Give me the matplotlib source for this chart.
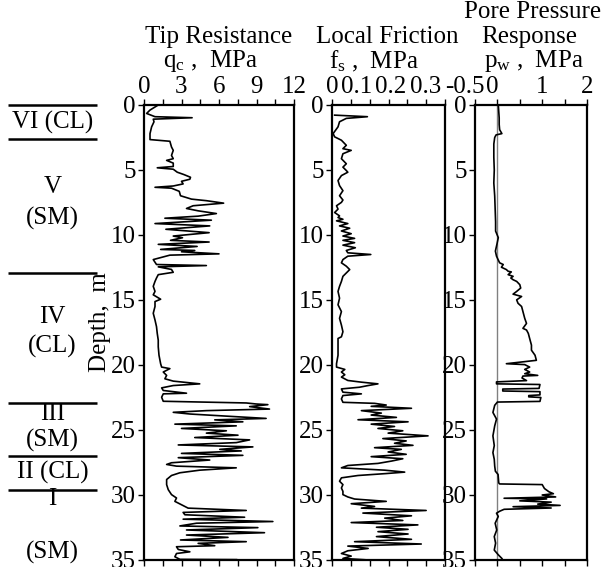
import numpy as np
import matplotlib
matplotlib.use("Agg")
import matplotlib.pyplot as plt
import matplotlib.transforms as mtransforms
from matplotlib.ticker import MultipleLocator

plt.rcParams['font.family'] = 'Liberation Serif'
plt.rcParams['mathtext.fontset'] = 'custom'
plt.rcParams['mathtext.rm'] = 'Liberation Serif'
plt.rcParams['mathtext.it'] = 'Liberation Serif:italic'
plt.rcParams['axes.unicode_minus'] = False

# CPT log: (depth m, value MPa)
qc_log = [(0.0,1.14),(0.39,0.48),(0.65,0.21),(0.90,0.88),(0.98,3.85),(1.09,0.74),(1.29,0.80),(1.68,0.61),
          (2.20,0.48),(2.66,0.48),(2.79,2.07),(3.23,2.20),(3.49,2.34),(3.88,2.20),(4.13,2.34),(4.26,1.81),
          (4.47,2.34),(4.73,2.34),(4.83,1.06),(4.94,2.34),(5.17,2.66),(5.35,3.19),(5.56,3.72),(5.71,3.67),
          (5.87,3.00),(6.07,3.13),(6.23,2.34),(6.33,0.88),(6.40,2.20),(6.64,2.82),(6.98,2.92),(7.24,3.80),
          (7.36,4.99),(7.55,6.37),(7.75,3.93),(7.96,3.40),(8.14,4.33),(8.35,5.79),(8.55,4.33),(8.71,1.67),
          (8.86,5.39),(9.12,0.88),(9.30,5.26),(9.56,1.75),(9.82,5.21),(10.08,2.34),(10.21,3.08),(10.41,2.12),
          (10.54,5.21),(10.72,1.14),(10.88,4.25),(11.11,1.33),(11.19,4.06),(11.29,3.00),(11.45,6.00),(11.55,2.07),
          (11.89,0.74),(12.27,1.00),(12.35,4.99),(12.45,1.14),(12.65,2.20),(12.87,2.34),(13.05,1.14),(13.31,1.00),
          (13.57,0.88),(13.95,0.74),(14.34,0.88),(14.60,0.74),(14.94,1.33),(15.12,0.88),(15.50,0.88),(16.02,0.74),
          (16.54,0.88),(17.05,1.00),(17.57,1.06),(18.09,1.14),(18.60,1.14),(19.25,1.20),(19.90,1.33),(20.16,1.41),
          (20.28,2.07),(20.54,1.54),(20.80,1.81),(21.06,1.67),(21.24,2.34),(21.45,4.46),(21.58,2.34),(21.76,1.41),
          (21.96,1.54),(22.17,3.40),(22.22,1.54),(22.48,1.41),(22.79,1.54),(22.92,8.18),(23.00,8.98),(23.05,9.91),
          (23.20,8.45),(23.39,10.04),(23.51,4.99),(23.64,2.34),(23.77,3.67),(24.11,9.77),(24.22,5.66),(24.37,7.91),
          (24.55,2.47),(24.68,7.38),(24.88,3.00),(25.06,6.59),(25.24,4.99),(25.40,7.52),(25.58,4.06),(25.76,8.45),
          (25.97,7.38),(26.15,2.74),(26.30,8.71),(26.49,6.06),(26.61,7.78),(26.80,3.00),(26.95,7.91),(27.13,2.74),
          (27.31,5.26),(27.52,2.20),(27.65,1.81),(27.78,2.60),(27.91,7.38),(28.09,4.46),(28.29,2.87),(28.50,2.20),
          (28.81,1.81),(29.20,1.81),(29.59,1.94),(29.97,2.20),(30.23,2.60),(30.49,2.47),(30.75,3.00),(31.01,3.53),
          (31.19,8.18),(31.34,3.13),(31.52,3.27),(31.71,8.05),(31.86,3.13),(32.04,10.31),(32.17,4.20),(32.38,2.87),
          (32.51,9.11),(32.69,3.40),(32.90,9.64),(33.08,3.40),(33.26,6.72),(33.46,2.92),(33.59,8.18),(33.72,4.33),
          (33.90,5.66),(33.98,2.60),(34.19,2.74),(34.37,3.67),(34.50,2.60),(34.75,2.47),(34.95,2.87),(34.97,7.40)]

fs_log = [(0.78,0.007),(0.90,0.094),(1.03,0.038),(1.29,0.020),(1.68,0.016),(2.20,0.003),(2.45,0.007),(2.71,0.025),
          (3.10,0.038),(3.36,0.029),(3.49,0.051),(3.75,0.029),(4.13,0.025),(4.52,0.038),(4.78,0.029),(5.04,0.038),
          (5.17,0.042),(5.43,0.025),(5.81,0.016),(6.20,0.020),(6.59,0.029),(6.98,0.020),(7.31,0.029),(7.49,0.025),
          (7.75,0.012),(8.01,0.016),(8.27,0.007),(8.53,0.020),(8.66,0.016),(8.79,0.029),(8.91,0.012),(9.12,0.042),
          (9.30,0.020),(9.48,0.047),(9.69,0.025),(9.90,0.051),(10.08,0.029),(10.26,0.060),(10.41,0.029),(10.59,0.060),
          (10.78,0.029),(10.98,0.062),(11.19,0.038),(11.37,0.042),(11.50,0.103),(11.63,0.042),(11.89,0.029),(12.14,0.025),
          (12.40,0.038),(12.66,0.047),(12.92,0.038),(13.18,0.029),(13.57,0.025),(13.95,0.020),(14.34,0.016),(14.86,0.020),
          (15.37,0.016),(15.89,0.025),(16.41,0.020),(16.93,0.025),(17.44,0.029),(17.83,0.025),(17.96,0.016),(18.60,0.016),
          (19.25,0.016),(19.90,0.012),(20.16,0.012),(20.34,0.034),(20.54,0.025),(20.75,0.034),(20.93,0.025),(21.19,0.042),
          (21.32,0.078),(21.45,0.122),(21.58,0.096),(21.71,0.073),(21.84,0.025),(22.09,0.029),(22.22,0.078),(22.35,0.029),
          (22.61,0.025),(22.87,0.029),(22.95,0.113),(23.08,0.144),(23.18,0.104),(23.33,0.211),(23.51,0.078),(23.70,0.131),
          (23.85,0.104),(24.03,0.171),(24.21,0.069),(24.37,0.202),(24.55,0.104),(24.73,0.166),(24.88,0.122),(25.06,0.188),
          (25.24,0.149),(25.45,0.255),(25.66,0.135),(25.84,0.197),(26.02,0.166),(26.18,0.215),(26.36,0.113),(26.49,0.184),
          (26.69,0.149),(26.87,0.197),(27.05,0.104),(27.21,0.188),(27.39,0.158),(27.57,0.122),(27.73,0.042),(27.91,0.025),
          (28.09,0.140),(28.24,0.193),(28.35,0.144),(28.50,0.069),(28.68,0.025),(28.94,0.020),(29.20,0.029),(29.46,0.025),
          (29.72,0.029),(29.97,0.029),(30.15,0.042),(30.31,0.060),(30.49,0.144),(30.67,0.051),(30.88,0.113),(31.01,0.078),
          (31.19,0.250),(31.39,0.082),(31.60,0.211),(31.78,0.140),(31.96,0.188),(32.12,0.051),(32.30,0.228),(32.48,0.118),
          (32.64,0.202),(32.82,0.122),(33.00,0.202),(33.20,0.118),(33.41,0.211),(33.59,0.060),(33.77,0.237),(33.93,0.042),
          (34.11,0.096),(34.29,0.042),(34.50,0.025),(34.70,0.051),(34.88,0.029),(34.98,0.087)]

pw_log = [(0.0,0.02),(0.5,0.03),(1.0,0.04),(1.5,0.04),(1.9,0.05),(2.2,0.10),(2.3,-0.03),(2.5,-0.06),(3.0,-0.08),
          (4.0,-0.08),(5.0,-0.07),(6.0,-0.08),(7.0,-0.06),(8.0,-0.05),(9.0,-0.04),(9.7,-0.04),(10.2,0.02),(10.7,-0.01),
          (11.24,-0.045),(11.63,-0.02),(11.89,0.015),(12.14,0.05),(12.27,0.13),(12.48,0.09),(12.66,0.20),(12.79,0.24),
          (12.84,0.31),(13.05,0.24),(13.18,0.35),(13.31,0.30),(13.44,0.35),(13.57,0.43),(13.82,0.50),(14.08,0.52),
          (14.34,0.43),(14.55,0.35),(14.73,0.54),(14.99,0.43),(15.25,0.46),(15.5,0.54),(15.89,0.57),(16.41,0.61),
          (16.8,0.65),(17.18,0.57),(17.31,0.65),(17.57,0.69),(17.96,0.72),(18.47,0.76),(18.86,0.76),(19.25,0.84),
          (19.64,0.87),(19.9,0.20),(19.97,0.61),(20.16,0.72),(20.34,0.61),(20.54,0.72),(20.67,0.61),(20.8,0.90),
          (20.85,0.57),(21.0,0.55),(21.2,0.65),(21.3,-0.02),(21.45,-0.02),(21.5,0.95),(21.8,0.93),(21.85,0.12),
          (22.0,0.12),(22.05,0.95),(22.3,0.95),(22.35,0.70),(22.45,0.70),(22.5,0.97),(22.8,0.95),(22.85,0.0),
          (23.1,-0.06),(23.65,-0.10),(24.16,-0.02),(24.68,-0.06),(25.45,-0.10),(26.2,-0.07),(26.74,-0.10),(27.26,-0.07),
          (27.78,-0.06),(28.17,-0.045),(28.42,0.015),(29.07,0.03),(29.15,0.05),(29.2,1.0),(29.5,1.05),(29.75,1.15),
          (29.9,1.25),(30.0,1.0),(30.15,1.3),(30.25,0.15),(30.3,1.1),(30.45,0.5),(30.55,1.2),(30.7,0.9),(30.8,1.4),
          (30.9,0.35),(31.0,1.2),(31.1,0.15),(31.25,0.05),(31.4,-0.02),(31.65,0.02),(32.17,-0.05),(32.69,-0.015),
          (33.2,-0.07),(33.7,-0.04),(34.24,-0.07),(34.6,0.02),(34.88,0.1),(35.0,0.12)]

qc_ticks = [0, 3, 6, 9, 12]
fs_ticks = [0, 0.1, 0.2, 0.3]
pw_ticks = [-0.5, 0, 1, 2]
depth_ticks = [0, 5, 10, 15, 20, 25, 30, 35]

# soil units: boundary depths and labels
unit_bounds = [0, 2.64, 12.95, 22.95, 26.98, 29.61]
unit_labels = ["VI (CL)", "V", "(SM)", "IV", "(CL)", "III", "(SM)", "II (CL)", "I", "(SM)"]
unit_label_depth = [1.32, 6.3, 8.7, 16.3, 18.6, 23.8, 25.8, 28.3, 30.3, 34.4]

W, H = 603, 567
FS = 18

def box(x0, x1, y0=105, y1=560):
    return [x0 / W, 1 - y1 / H, (x1 - x0) / W, (y1 - y0) / H]

fig = plt.figure(figsize=(W / 100, H / 100), dpi=100)

# the top labels in the original sit a bit left of their ticks (px)
panels = [
    (qc_log, box(144, 294), (0, 12), qc_ticks, 1.5, ["0", "3", "6", "9", "12"], [0, 0, 0, 0, 0]),
    (fs_log, box(332, 445), (0, 0.3), fs_ticks, 0.05, ["0", "0.1", "0.2", "0.3"], [0, -13, -17, -19]),
    (pw_log, box(475, 587), (-0.5, 2), pw_ticks, 0.5, ["-0.5", "0", "1", "2"], [-10, -5, 0, 0]),
]

axes = []
for log, pos, xlim, ticks, minor, labels, shift in panels:
    ax = fig.add_axes(pos)
    d = np.array([p[0] for p in log])
    v = np.array([p[1] for p in log])
    ax.plot(v, d, color='black', lw=1.2)
    ax.set_xlim(*xlim)
    ax.set_ylim(35, 0)
    ax.set_xticks(ticks)
    ax.set_xticklabels(labels)
    ax.xaxis.set_minor_locator(MultipleLocator(minor))
    ax.xaxis.set_ticks_position('both')
    ax.tick_params(axis='x', which='both', direction='out', length=4, width=1,
                   labeltop=True, labelbottom=False, pad=1, labelsize=FS)
    ax.set_yticks(depth_ticks)
    ax.set_yticklabels([str(t) for t in depth_ticks])
    ax.tick_params(axis='y', direction='out', length=4, width=1, pad=2, labelsize=FS)
    for s in ax.spines.values():
        s.set_linewidth(1.6)
    for tick, dx in zip(ax.xaxis.get_major_ticks(), shift):
        off = mtransforms.ScaledTranslation(dx / 100, 0, fig.dpi_scale_trans)
        tick.label2.set_transform(tick.label2.get_transform() + off)
    axes.append(ax)

axes[2].axvline(0, color='grey', lw=1, zorder=1)

# unit column on the left
ax_u = fig.add_axes(box(8, 97))
ax_u.set_ylim(35, 0)
ax_u.set_xlim(0, 1)
ax_u.axis('off')
ax_u.hlines(unit_bounds, 0, 1, color='black', lw=1.8, clip_on=False)
for lab, dep in zip(unit_labels, unit_label_depth):
    ax_u.text(0.5, dep, lab, ha='center', va='center', fontsize=FS)

fig.text(100 / W, 1 - 322 / H, "Depth,  m", rotation=90, ha='center', va='center', fontsize=FS)

# headers
fig.text(219 / W, 1 - 37 / H, "Tip Resistance", ha='center', va='center', fontsize=FS)
fig.text(210 / W, 1 - 61 / H, r"q$_\mathrm{c}$ ,  MPa", ha='center', va='center', fontsize=FS)
fig.text(387 / W, 1 - 37 / H, "Local Friction", ha='center', va='center', fontsize=FS)
fig.text(374 / W, 1 - 61 / H, r"f$_\mathrm{s}$ ,  MPa", ha='center', va='center', fontsize=FS)
fig.text(533 / W, 1 - 12 / H, "Pore Pressure", ha='center', va='center', fontsize=FS)
fig.text(529 / W, 1 - 37 / H, "Response", ha='center', va='center', fontsize=FS)
fig.text(534 / W, 1 - 61 / H, r"p$_\mathrm{w}$ ,  MPa", ha='center', va='center', fontsize=FS)

fig.savefig("out.png", dpi=100)
